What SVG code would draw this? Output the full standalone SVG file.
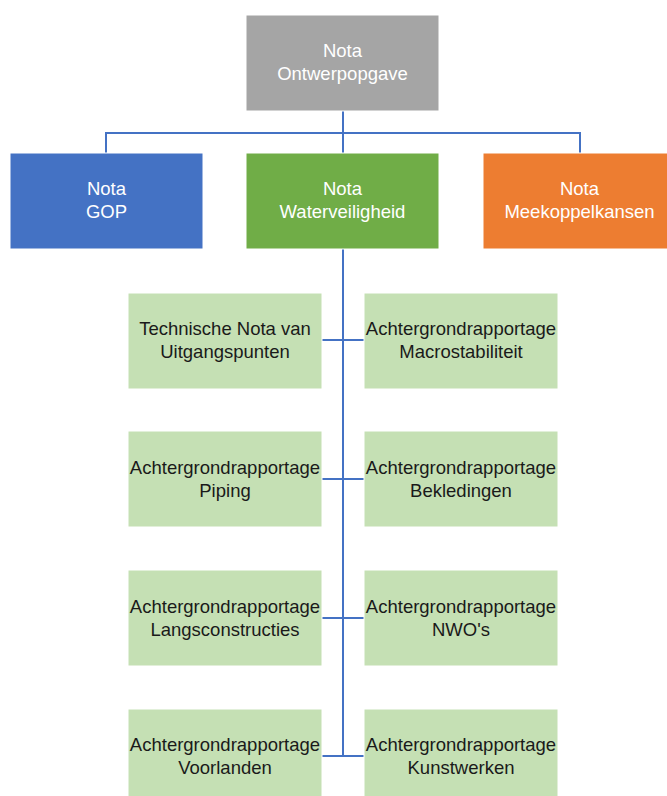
<svg xmlns="http://www.w3.org/2000/svg" width="667" height="796" viewBox="0 0 667 796">
<style>
.box{stroke:#ffffff;stroke-width:1}
.t{font-family:"Liberation Sans",Arial,sans-serif;font-size:18.5px;text-anchor:middle}
.w{fill:#ffffff}
.d{fill:#1a1a1a}
.c{stroke:#4472C4;stroke-width:2;fill:none}
</style>
<rect width="667" height="796" fill="#ffffff"/>
<g id="connectors">
<path class="c" d="M343 111V133M106 153V133H580V153M343 133V153"/>
<path class="c" d="M343 249V756"/>
<path class="c" d="M322 340H364M322 479H364M322 618H364M322 756H364"/>
</g>
<g id="n-ontwerp"><rect class="box" x="246" y="15" width="193" height="96" fill="#A5A5A5"/><text class="t w" x="342.5" y="57">Nota</text><text class="t w" x="342.5" y="80">Ontwerpopgave</text></g>
<g id="n-gop"><rect class="box" x="10" y="153" width="193" height="96" fill="#4472C4"/><text class="t w" x="106.5" y="195">Nota</text><text class="t w" x="106.5" y="218">GOP</text></g>
<g id="n-water"><rect class="box" x="246" y="153" width="193" height="96" fill="#70AD47"/><text class="t w" x="342.5" y="195">Nota</text><text class="t w" x="342.5" y="218">Waterveiligheid</text></g>
<g id="n-meekoppel"><rect class="box" x="483" y="153" width="193" height="96" fill="#ED7D31"/><text class="t w" x="579.5" y="195">Nota</text><text class="t w" x="579.5" y="218">Meekoppelkansen</text></g>
<g id="n-tnvu"><rect class="box" x="128" y="293" width="194" height="96" fill="#C5E0B4"/><text class="t d" x="225" y="335">Technische Nota van</text><text class="t d" x="225" y="358">Uitgangspunten</text></g>
<g id="n-macro"><rect class="box" x="364" y="293" width="194" height="96" fill="#C5E0B4"/><text class="t d" x="461" y="335">Achtergrondrapportage</text><text class="t d" x="461" y="358">Macrostabiliteit</text></g>
<g id="n-piping"><rect class="box" x="128" y="431" width="194" height="96" fill="#C5E0B4"/><text class="t d" x="225" y="474">Achtergrondrapportage</text><text class="t d" x="225" y="497">Piping</text></g>
<g id="n-bekleding"><rect class="box" x="364" y="431" width="194" height="96" fill="#C5E0B4"/><text class="t d" x="461" y="474">Achtergrondrapportage</text><text class="t d" x="461" y="497">Bekledingen</text></g>
<g id="n-langs"><rect class="box" x="128" y="570" width="194" height="96" fill="#C5E0B4"/><text class="t d" x="225" y="613">Achtergrondrapportage</text><text class="t d" x="225" y="636">Langsconstructies</text></g>
<g id="n-nwo"><rect class="box" x="364" y="570" width="194" height="96" fill="#C5E0B4"/><text class="t d" x="461" y="613">Achtergrondrapportage</text><text class="t d" x="461" y="636">NWO's</text></g>
<g id="n-voorland"><rect class="box" x="128" y="709" width="194" height="96" fill="#C5E0B4"/><text class="t d" x="225" y="751">Achtergrondrapportage</text><text class="t d" x="225" y="774">Voorlanden</text></g>
<g id="n-kunst"><rect class="box" x="364" y="709" width="194" height="96" fill="#C5E0B4"/><text class="t d" x="461" y="751">Achtergrondrapportage</text><text class="t d" x="461" y="774">Kunstwerken</text></g>
</svg>
